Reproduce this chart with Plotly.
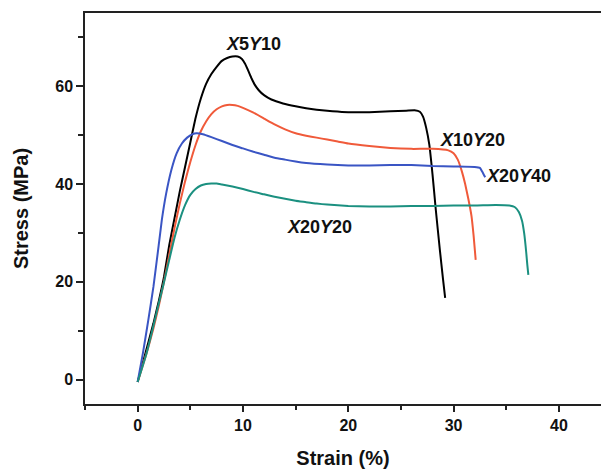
import plotly.graph_objects as go

# ---- data ----
x5y10_strain = [0, 0.5, 1, 1.5, 2, 2.5, 3, 3.5, 4, 4.5, 5, 5.5, 6, 6.5, 7, 7.5, 8, 8.5, 9, 9.5, 9.9, 10.2, 10.5, 10.8, 11.1, 11.5, 12, 12.7, 13.8, 15, 16, 17, 18.5, 20, 22, 24, 25.5, 26.3, 26.8, 27.1, 27.4, 27.7, 28.0, 28.3, 28.7, 29.0, 29.2]
x5y10_stress = [-0.5, 3.5, 7.5, 11.5, 16, 21, 27.5, 33, 38.5, 43.5, 48.5, 53.5, 57.5, 60.5, 62.5, 64, 65.2, 65.8, 66.1, 66.1, 65.6, 64.6, 63.2, 61.7, 60.4, 59.2, 58.2, 57.3, 56.5, 55.9, 55.5, 55.2, 54.9, 54.7, 54.7, 54.9, 55.0, 55.1, 54.8, 53.8, 51.5, 48, 42, 35, 26.5, 20.5, 16.7]

x10y20_strain = [0, 0.5, 1, 1.5, 2, 2.5, 3, 3.5, 4, 4.5, 5, 5.5, 6, 6.5, 7, 7.5, 8, 8.5, 9, 9.5, 10, 11, 12, 13, 14, 15, 16, 17, 18, 19, 20, 22, 24, 26, 28, 29.5, 30, 30.4, 30.8, 31.1, 31.4, 31.7, 31.9, 32.1]
x10y20_stress = [-0.5, 3, 6.5, 10.5, 15, 20, 25.5, 31, 36, 40.5, 44.5, 48, 50.8, 52.8, 54.3, 55.3, 55.9, 56.2, 56.2, 56, 55.6, 54.6, 53.4, 52.2, 51.2, 50.4, 49.9, 49.5, 49.1, 48.7, 48.3, 47.8, 47.4, 47.2, 47.2, 46.9, 46.3, 45, 42.5, 40, 37, 33.5, 29.5, 24.5]

x20y40_strain = [0, 0.5, 1.0, 1.5, 2.0, 2.3, 2.7, 3.2, 3.7, 4.2, 4.7, 5.2, 5.6, 6.2, 7, 8, 9, 10, 11, 12, 13, 14, 15, 16, 18, 20, 22, 24, 26, 28, 30, 32, 32.5, 32.7, 32.9, 33.0]
x20y40_stress = [-0.5, 5.4, 12, 19, 27.5, 32.7, 38, 42.9, 46.3, 48.3, 49.5, 50.2, 50.4, 50.2, 49.6, 48.8, 48, 47.3, 46.6, 46, 45.4, 45, 44.6, 44.3, 44, 43.8, 43.8, 43.9, 43.9, 43.7, 43.6, 43.5, 43.3, 42.6, 41.8, 41.4]

x20y20_strain = [0, 0.85, 1.5, 2, 2.4, 3, 3.5, 4, 4.5, 5, 5.5, 6, 6.5, 7, 7.5, 8, 9, 10, 11, 12, 13, 14, 15, 16, 17, 18, 20, 22, 24, 26, 28, 30, 32, 34, 35.3, 35.8, 36.2, 36.5, 36.7, 36.9, 37.0, 37.1]
x20y20_stress = [-0.5, 5.4, 11, 15.5, 19, 24.5, 29, 32.7, 35.7, 37.8, 39, 39.7, 40.0, 40.1, 40.1, 39.9, 39.5, 39, 38.4, 37.9, 37.4, 37, 36.6, 36.3, 36, 35.8, 35.5, 35.4, 35.4, 35.5, 35.5, 35.6, 35.6, 35.7, 35.6, 35.3, 34.3, 32.5, 30, 26, 23.5, 21.4]

series_names = ["X5Y10", "X10Y20", "X20Y40", "X20Y20"]
series_labels = ["<b><i>X</i>5<i>Y</i>10</b>", "<b><i>X</i>10<i>Y</i>20</b>",
                 "<b><i>X</i>20<i>Y</i>40</b>", "<b><i>X</i>20<i>Y</i>20</b>"]
label_x = [11.0, 31.8, 36.2, 17.3]
label_y = [68.6, 49.0, 41.6, 31.2]
colors = ["#000000", "#f05a3a", "#3a55c4", "#1b9080"]

x_tickvals = [0, 10, 20, 30, 40]
y_tickvals = [0, 20, 40, 60]

fig = go.Figure()
data = [(x5y10_strain, x5y10_stress), (x10y20_strain, x10y20_stress),
        (x20y40_strain, x20y40_stress), (x20y20_strain, x20y20_stress)]
for (xs, ys), name, c in zip(data, series_names, colors):
    fig.add_trace(go.Scatter(x=xs, y=ys, mode="lines", name=name,
                             line=dict(color=c, width=2, shape="spline", smoothing=0.4),
                             showlegend=False))

for lab, lx, ly in zip(series_labels, label_x, label_y):
    fig.add_annotation(x=lx, y=ly, text=lab, showarrow=False,
                       font=dict(family="Liberation Sans, Arial", size=18, color="#111"))

fig.update_layout(
    width=601, height=469,
    margin=dict(l=85, r=0, t=13, b=65),
    paper_bgcolor="white", plot_bgcolor="white",
    font=dict(family="Liberation Sans, Arial", color="#111"),
)
fig.update_xaxes(range=[-5, 44], tickvals=x_tickvals, ticks="outside", ticklen=6,
                 tickwidth=1.5, tickcolor="#222",
                 minor=dict(dtick=5, tick0=5, ticks="outside", ticklen=4, tickcolor="#222"),
                 showline=True, linecolor="#222", linewidth=1.5, mirror=True,
                 showgrid=False, zeroline=False,
                 tickfont=dict(size=16, weight="bold"),
                 title=dict(text="<b>Strain (%)</b>", font=dict(size=20), standoff=18))
fig.update_yaxes(range=[-5, 75], tickvals=y_tickvals, ticks="outside", ticklen=7,
                 tickwidth=1.5, tickcolor="#222",
                 minor=dict(dtick=10, tick0=10, ticks="outside", ticklen=5, tickcolor="#222"),
                 showline=True, linecolor="#222", linewidth=1.5,
                 showgrid=False, zeroline=False,
                 tickfont=dict(size=16, weight="bold"),
                 title=dict(text="<b>Stress (MPa)</b>", font=dict(size=20), standoff=21))

fig.write_html("out.html")
